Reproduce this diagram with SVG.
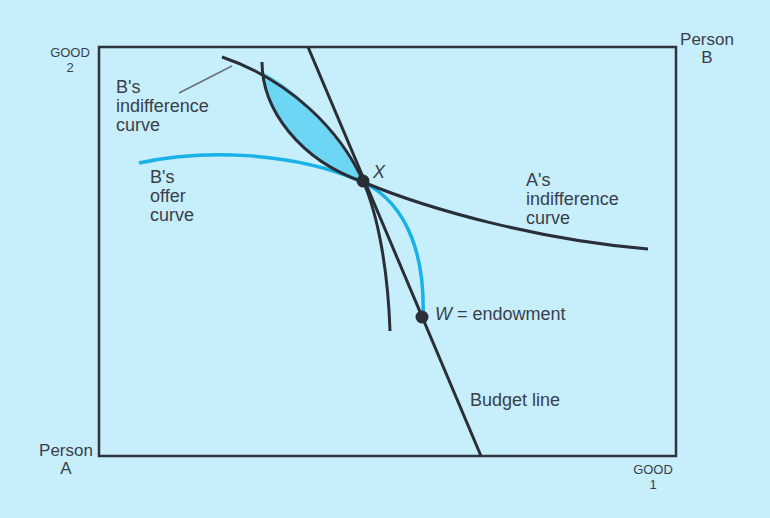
<svg xmlns="http://www.w3.org/2000/svg" width="770" height="518" viewBox="0 0 770 518">
<style>
.t{font-family:"Liberation Sans",Arial,sans-serif;fill:#3a3f4a;font-size:18px}
.p{font-family:"Liberation Sans",Arial,sans-serif;fill:#3a3f4a;font-size:17px;text-anchor:middle}
.s{font-family:"Liberation Sans",Arial,sans-serif;fill:#3a3f4a;font-size:13px;text-anchor:middle}
.c{fill:none;stroke:#2a2e36;stroke-width:3;stroke-linecap:butt}
</style>
<rect width="770" height="518" fill="#c6eefb"/>
<g id="box"><rect x="99" y="47" width="577" height="409" fill="none" stroke="#2f333b" stroke-width="2.5"/></g>
<g id="lens"><path d="M263,72 C266,115 300,160 363,182 C345,140 305,95 263,72 Z" fill="#6dd6f4"/></g>
<g id="connectors">
<path id="offer" d="M139,163 C200,150 290,150 363,182 C410,205 425,260 423,317" fill="none" stroke="#19b2e8" stroke-width="3.5"/>
<path id="b-indiff" class="c" d="M222,57 C290,80 340,130 363,181 C378,215 388,270 390,331"/>
<path id="a-indiff" class="c" d="M262,62 C262,110 300,160 363,182 C430,210 540,240 648,249"/>
<line id="budget" class="c" x1="308" y1="47" x2="481" y2="456"/>
<line id="leader" x1="179" y1="93" x2="232" y2="66" stroke="#6b7078" stroke-width="1.5"/>
</g>
<g id="X"><circle cx="363" cy="181" r="6.5" fill="#2a2e36"/><text class="t" x="373" y="178" font-style="italic">X</text></g>
<g id="W"><circle cx="422" cy="317" r="6.5" fill="#2a2e36"/><text class="t" x="435" y="320"><tspan font-style="italic">W</tspan> = endowment</text></g>
<g id="labels">
<text class="t" x="116" y="93">B's</text>
<text class="t" x="116" y="112">indifference</text>
<text class="t" x="116" y="131">curve</text>
<text class="t" x="150" y="183">B's</text>
<text class="t" x="150" y="202">offer</text>
<text class="t" x="150" y="221">curve</text>
<text class="t" x="526" y="186">A's</text>
<text class="t" x="526" y="205">indifference</text>
<text class="t" x="526" y="224">curve</text>
<text class="t" x="470" y="406">Budget line</text>
<text class="p" x="66" y="456">Person</text>
<text class="p" x="66" y="474">A</text>
<text class="p" x="707" y="45">Person</text>
<text class="p" x="707" y="63">B</text>
<text class="s" x="70" y="57">GOOD</text>
<text class="s" x="70" y="72">2</text>
<text class="s" x="653" y="474">GOOD</text>
<text class="s" x="653" y="489">1</text>
</g>
</svg>
